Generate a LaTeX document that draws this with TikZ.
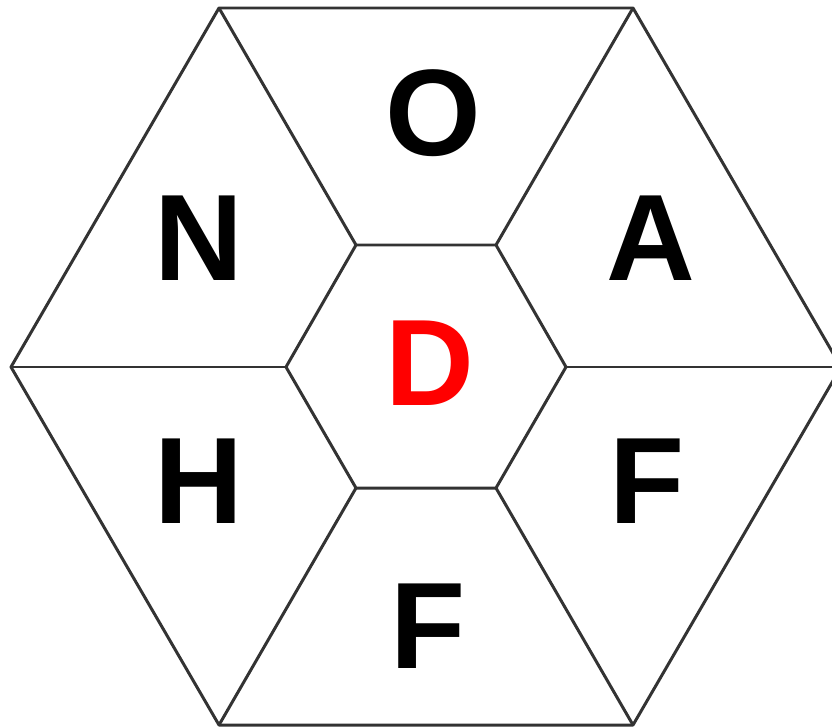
\documentclass[tikz,border=0pt]{standalone}
\usepackage{fontspec}
\setmainfont{Liberation Sans}
\usetikzlibrary{positioning}

\begin{document}
\begin{tikzpicture}[x=0.02cm,y=-0.02cm]
\tikzset{cell/.style = {line width=1.7pt, draw=black!80, line join=round}}
\tikzset{letter/.style = {anchor=base, inner sep=0pt, font=\fontsize{70}{70}\bfseries\selectfont}}
\useasboundingbox (0,0) rectangle (832,727);
% outer corners
\coordinate (o1) at (219,8);
\coordinate (o2) at (633,8);
\coordinate (o3) at (841,367);
\coordinate (o4) at (633,725);
\coordinate (o5) at (219,725);
\coordinate (o6) at (11,367);
% inner corners
\coordinate (i1) at (356,245);
\coordinate (i2) at (496,245);
\coordinate (i3) at (566,367);
\coordinate (i4) at (496,488);
\coordinate (i5) at (356,488);
\coordinate (i6) at (286,367);
% hexagons
\draw[cell] (o1) -- (o2) -- (o3) -- (o4) -- (o5) -- (o6) -- cycle;
\draw[cell] (i1) -- (i2) -- (i3) -- (i4) -- (i5) -- (i6) -- cycle;
% spokes
\draw[cell] (i1) -- (o1);
\draw[cell] (i2) -- (o2);
\draw[cell] (i3) -- (o3);
\draw[cell] (i4) -- (o4);
\draw[cell] (i5) -- (o5);
\draw[cell] (i6) -- (o6);
% letters
\node[letter] (top) at (433,155) {O};
\node[letter] (topleft) at (199,280) {N};
\node[letter] (topright) at (651,280) {A};
\node[letter] (botleft) at (199,523) {H};
\node[letter] (botright) at (647,523) {F};
\node[letter] (bottom) at (428,668) {F};
\node[letter, text=red] (centre) at (430,405) {D};
\end{tikzpicture}
\end{document}
